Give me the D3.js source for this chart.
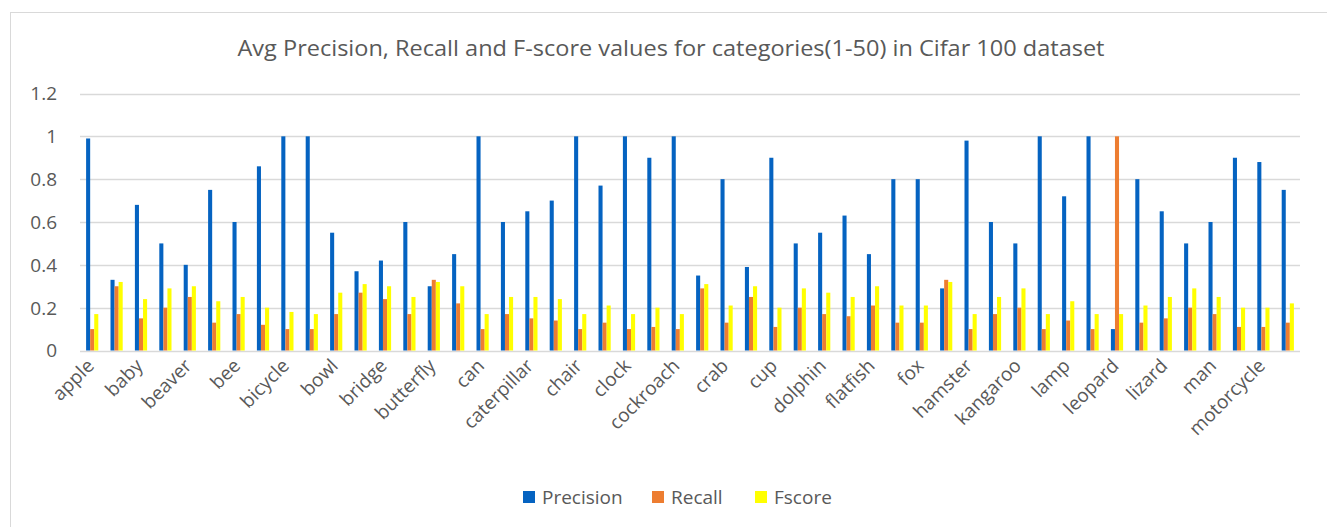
<!DOCTYPE html>
<html>
<head>
  <meta charset="utf-8">
  <script src="https://d3js.org/d3.v7.min.js"></script>
  <style>
    body { margin: 0; background: #fff; }
    text { font-family: "Open Sans", sans-serif; fill: #595959; }
  </style>
</head>
<body>
<script>
  // Cifar 100, categories 1-50
  var categories = ["apple", "aquarium_fish", "baby", "bear", "beaver", "bed", "bee", "beetle",
    "bicycle", "bottle", "bowl", "boy", "bridge", "bus", "butterfly", "camel", "can", "castle",
    "caterpillar", "cattle", "chair", "chimpanzee", "clock", "cloud", "cockroach", "couch",
    "crab", "crocodile", "cup", "dinosaur", "dolphin", "elephant", "flatfish", "forest", "fox",
    "girl", "hamster", "house", "kangaroo", "keyboard", "lamp", "lawn_mower", "leopard", "lion",
    "lizard", "lobster", "man", "maple_tree", "motorcycle", "mountain"];

  var precision = [0.99, 0.33, 0.68, 0.50, 0.40, 0.75, 0.60, 0.86, 1.00, 1.00,
    0.55, 0.37, 0.42, 0.60, 0.30, 0.45, 1.00, 0.60, 0.65, 0.70,
    1.00, 0.77, 1.00, 0.90, 1.00, 0.35, 0.80, 0.39, 0.90, 0.50,
    0.55, 0.63, 0.45, 0.80, 0.80, 0.29, 0.98, 0.60, 0.50, 1.00,
    0.72, 1.00, 0.10, 0.80, 0.65, 0.50, 0.60, 0.90, 0.88, 0.75];

  var recall = [0.10, 0.30, 0.15, 0.20, 0.25, 0.13, 0.17, 0.12, 0.10, 0.10,
    0.17, 0.27, 0.24, 0.17, 0.33, 0.22, 0.10, 0.17, 0.15, 0.14,
    0.10, 0.13, 0.10, 0.11, 0.10, 0.29, 0.13, 0.25, 0.11, 0.20,
    0.17, 0.16, 0.21, 0.13, 0.13, 0.33, 0.10, 0.17, 0.20, 0.10,
    0.14, 0.10, 1.00, 0.13, 0.15, 0.20, 0.17, 0.11, 0.11, 0.13];

  var fscore = [0.17, 0.32, 0.24, 0.29, 0.30, 0.23, 0.25, 0.20, 0.18, 0.17,
    0.27, 0.31, 0.30, 0.25, 0.32, 0.30, 0.17, 0.25, 0.25, 0.24,
    0.17, 0.21, 0.17, 0.20, 0.17, 0.31, 0.21, 0.30, 0.20, 0.29,
    0.27, 0.25, 0.30, 0.21, 0.21, 0.32, 0.17, 0.25, 0.29, 0.17,
    0.23, 0.17, 0.17, 0.21, 0.25, 0.29, 0.25, 0.20, 0.20, 0.22];

  var seriesNames = ["Precision", "Recall", "Fscore"];
  var seriesColors = ["#0563C1", "#ED7D31", "#FFFF00"];
  var yTicks = [0, 0.2, 0.4, 0.6, 0.8, 1, 1.2];

  var width = 1327, height = 527;
  var plot = {left: 80, right: 1300, top: 93.5, bottom: 350.5};

  var svg = d3.select("body").append("svg")
    .attr("width", width)
    .attr("height", height);

  // chart frame (runs off the right and bottom of the picture)
  svg.append("rect")
    .attr("x", 10.5).attr("y", 12.5)
    .attr("width", 1400).attr("height", 600)
    .attr("fill", "none")
    .attr("stroke", "#d9d9d9");

  svg.append("text")
    .attr("x", 671).attr("y", 56)
    .attr("text-anchor", "middle")
    .style("font-size", "21px")
    .attr("textLength", 867)
    .attr("lengthAdjust", "spacingAndGlyphs")
    .text("Avg Precision, Recall and F-score values for categories(1-50) in Cifar 100 dataset");

  var x0 = d3.scaleBand()
    .domain(categories)
    .range([plot.left, plot.right])
    .paddingInner(0.5)
    .paddingOuter(0.25);

  var x1 = d3.scaleBand()
    .domain(seriesNames)
    .range([0, x0.bandwidth()]);

  var y = d3.scaleLinear()
    .domain([0, 1.2])
    .range([plot.bottom, plot.top]);

  // gridlines
  svg.append("g")
    .selectAll("line")
    .data(yTicks)
    .join("line")
    .attr("x1", plot.left).attr("x2", plot.right)
    .attr("y1", function(d) { return Math.round(y(d)) + 0.5; })
    .attr("y2", function(d) { return Math.round(y(d)) + 0.5; })
    .attr("stroke", "#d9d9d9")
    .attr("stroke-width", 1.5);

  svg.append("g")
    .selectAll("text")
    .data(yTicks)
    .join("text")
    .attr("x", 57)
    .attr("y", function(d) { return y(d); })
    .attr("dy", "0.36em")
    .attr("text-anchor", "end")
    .style("font-size", "19px")
    .text(function(d) { return d; });

  var rows = categories.map(function(c, i) {
    return {cat: c, values: [precision[i], recall[i], fscore[i]]};
  });

  var groups = svg.append("g")
    .selectAll("g")
    .data(rows)
    .join("g")
    .attr("transform", function(d) { return "translate(" + x0(d.cat) + ",0)"; });

  groups.selectAll("rect")
    .data(function(d) {
      return d.values.map(function(v, k) { return {key: seriesNames[k], value: v, k: k}; });
    })
    .join("rect")
    .attr("x", function(d) { return x1(d.key); })
    .attr("width", x1.bandwidth())
    .attr("y", function(d) { return y(d.value); })
    .attr("height", function(d) { return y(0) - y(d.value); })
    .attr("fill", function(d) { return seriesColors[d.k]; });

  // every second category label, slanted
  svg.append("g")
    .selectAll("text")
    .data(categories.filter(function(c, i) { return i % 2 === 0; }))
    .join("text")
    .attr("transform", function(d) {
      var cx = x0(d) + x0.bandwidth() / 2;
      return "translate(" + (cx + 3) + ",367) rotate(-45)";
    })
    .attr("text-anchor", "end")
    .style("font-size", "19px")
    .text(function(d) { return d; });

  // legend
  var legendX = [523, 652, 755];
  var legend = svg.append("g")
    .selectAll("g")
    .data(seriesNames)
    .join("g")
    .attr("transform", function(d, i) { return "translate(" + legendX[i] + ",491)"; });

  legend.append("rect")
    .attr("width", 12).attr("height", 12)
    .attr("fill", function(d, i) { return seriesColors[i]; });

  legend.append("text")
    .attr("x", 19).attr("y", 13)
    .style("font-size", "19px")
    .text(function(d) { return d; });
</script>
</body>
</html>
